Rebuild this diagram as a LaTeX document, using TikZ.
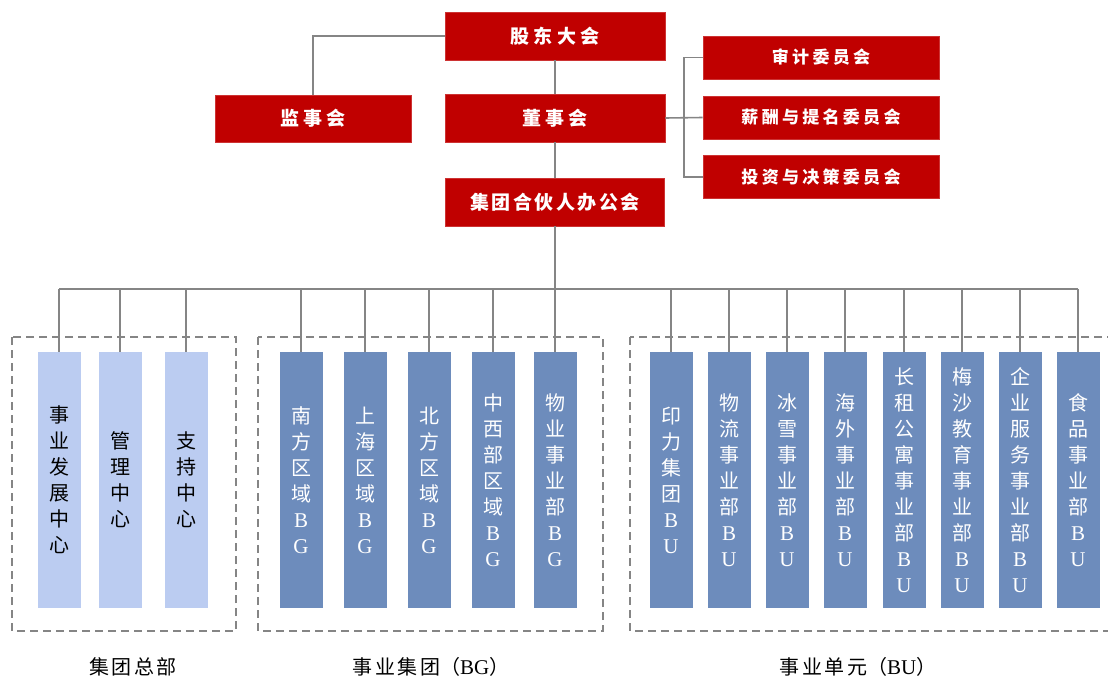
\documentclass[tikz,border=0pt]{standalone}
\usepackage{fontspec}
\setmainfont{Liberation Serif}
\newfontfamily\cjk{Noto Sans CJK SC}
\newcommand\lat[1]{{\rmfamily\fontsize{21}{26}\selectfont #1}}
\newcommand\g{\hspace{4.5pt}}
\newcommand\h{\hspace{2.5pt}}
\newcommand\hc{\hspace{3.3pt}}
\definecolor{myred}{HTML}{C00000}
\definecolor{dblue}{HTML}{6D8CBC}
\definecolor{lblue}{HTML}{BBCCF1}
\definecolor{lngray}{HTML}{858585}
\begin{document}
\begin{tikzpicture}[x=1pt,y=-1pt,
  redbox/.style={fill=myred, draw=myred!80!white, line width=0.6pt, text=white, inner sep=0pt,
    font=\cjk\bfseries\fontsize{19}{22}\selectfont},
  combox/.style={redbox, minimum width=236pt, minimum height=43pt, font=\cjk\bfseries\fontsize{17}{20}\selectfont},
  vbox/.style={inner sep=0pt, minimum width=43pt, minimum height=256pt, align=center,
    font=\cjk\fontsize{20}{26}\selectfont},
  lbox/.style={vbox, fill=lblue, text=black},
  bbox/.style={vbox, fill=dblue, text=white},
  conn/.style={draw=lngray, line width=1.6pt},
  grp/.style={draw=lngray, line width=1.8pt, dash pattern=on 8pt off 5pt},
  captxt/.style={font=\cjk\fontsize{20}{22}\selectfont, text=black}
]
\clip (0,0) rectangle (1108,677);
\fill[white] (0,0) rectangle (1108,677);

% red boxes
\node[redbox, minimum width=220pt, minimum height=48pt] (gd) at (555,36) {股\g 东\g 大\g 会};
\node[redbox, minimum width=196pt, minimum height=47pt] (jsh) at (313,118.5) {监\g 事\g 会};
\node[redbox, minimum width=220pt, minimum height=48pt] (dsh) at (555,118) {董\g 事\g 会};
\node[redbox, minimum width=219pt, minimum height=48pt] (hh) at (555,202) {集\h 团\h 合\h 伙\h 人\h 办\h 公\h 会};
\node[combox] (sj) at (821,57.5) {审\hc 计\hc 委\hc 员\hc 会};
\node[combox] (xc) at (821,117.5) {薪\hc 酬\hc 与\hc 提\hc 名\hc 委\hc 员\hc 会};
\node[combox] (tz) at (821,177) {投\hc 资\hc 与\hc 决\hc 策\hc 委\hc 员\hc 会};

% connectors top
\draw[conn] (gd.west) -| (jsh.north);
\draw[conn] (gd.south) -- (dsh.north);
\draw[conn] (dsh.south) -- (hh.north);
\coordinate (br) at (684,118);
\draw[conn] (dsh.east) -- (xc.west);
\draw[conn] (sj.west) -- (sj.west -| br) -- (tz.west -| br) -- (tz.west);

% group boxes
\draw[grp] (12,337) rectangle (236,631);
\draw[grp] (258,337) rectangle (603,631);
\draw[grp] (630,337) rectangle (1118,631);

% vertical boxes
\node[lbox] (l1) at (59,480) {事\\业\\发\\展\\中\\心};
\node[lbox] (l2) at (120,480) {管\\理\\中\\心};
\node[lbox] (l3) at (186,480) {支\\持\\中\\心};

\node[bbox] (g1) at (301,480) {南\\方\\区\\域\\\lat{B}\\\lat{G}};
\node[bbox] (g2) at (365,480) {上\\海\\区\\域\\\lat{B}\\\lat{G}};
\node[bbox] (g3) at (429,480) {北\\方\\区\\域\\\lat{B}\\\lat{G}};
\node[bbox] (g4) at (493,480) {中\\西\\部\\区\\域\\\lat{B}\\\lat{G}};
\node[bbox] (g5) at (555,480) {物\\业\\事\\业\\部\\\lat{B}\\\lat{G}};

\node[bbox] (u1) at (671,480) {印\\力\\集\\团\\\lat{B}\\\lat{U}};
\node[bbox] (u2) at (729,480) {物\\流\\事\\业\\部\\\lat{B}\\\lat{U}};
\node[bbox] (u3) at (787,480) {冰\\雪\\事\\业\\部\\\lat{B}\\\lat{U}};
\node[bbox] (u4) at (845,480) {海\\外\\事\\业\\部\\\lat{B}\\\lat{U}};
\node[bbox] (u5) at (904,480) {长\\租\\公\\寓\\事\\业\\部\\\lat{B}\\\lat{U}};
\node[bbox] (u6) at (962,480) {梅\\沙\\教\\育\\事\\业\\部\\\lat{B}\\\lat{U}};
\node[bbox] (u7) at (1020,480) {企\\业\\服\\务\\事\\业\\部\\\lat{B}\\\lat{U}};
\node[bbox] (u8) at (1078,480) {食\\品\\事\\业\\部\\\lat{B}\\\lat{U}};

% bus
\coordinate (bus) at (555,289);
\draw[conn] (hh.south) -- (bus);
\draw[conn] (l1.north |- bus) -- (u8.north |- bus);
\foreach \n in {l1,l2,l3,g1,g2,g3,g4,g5,u1,u2,u3,u4,u5,u6,u7,u8}
  \draw[conn] (\n.north |- bus) -- (\n.north);

% captions
\node[captxt] (c1) at (133,667) {集\h 团\h 总\h 部};
\node[captxt] (c2) at (431,667) {事\h 业\h 集\h 团（\lat{BG}）};
\node[captxt] (c3) at (858,667) {事\h 业\h 单\h 元（\lat{BU}）};
\end{tikzpicture}
\end{document}
